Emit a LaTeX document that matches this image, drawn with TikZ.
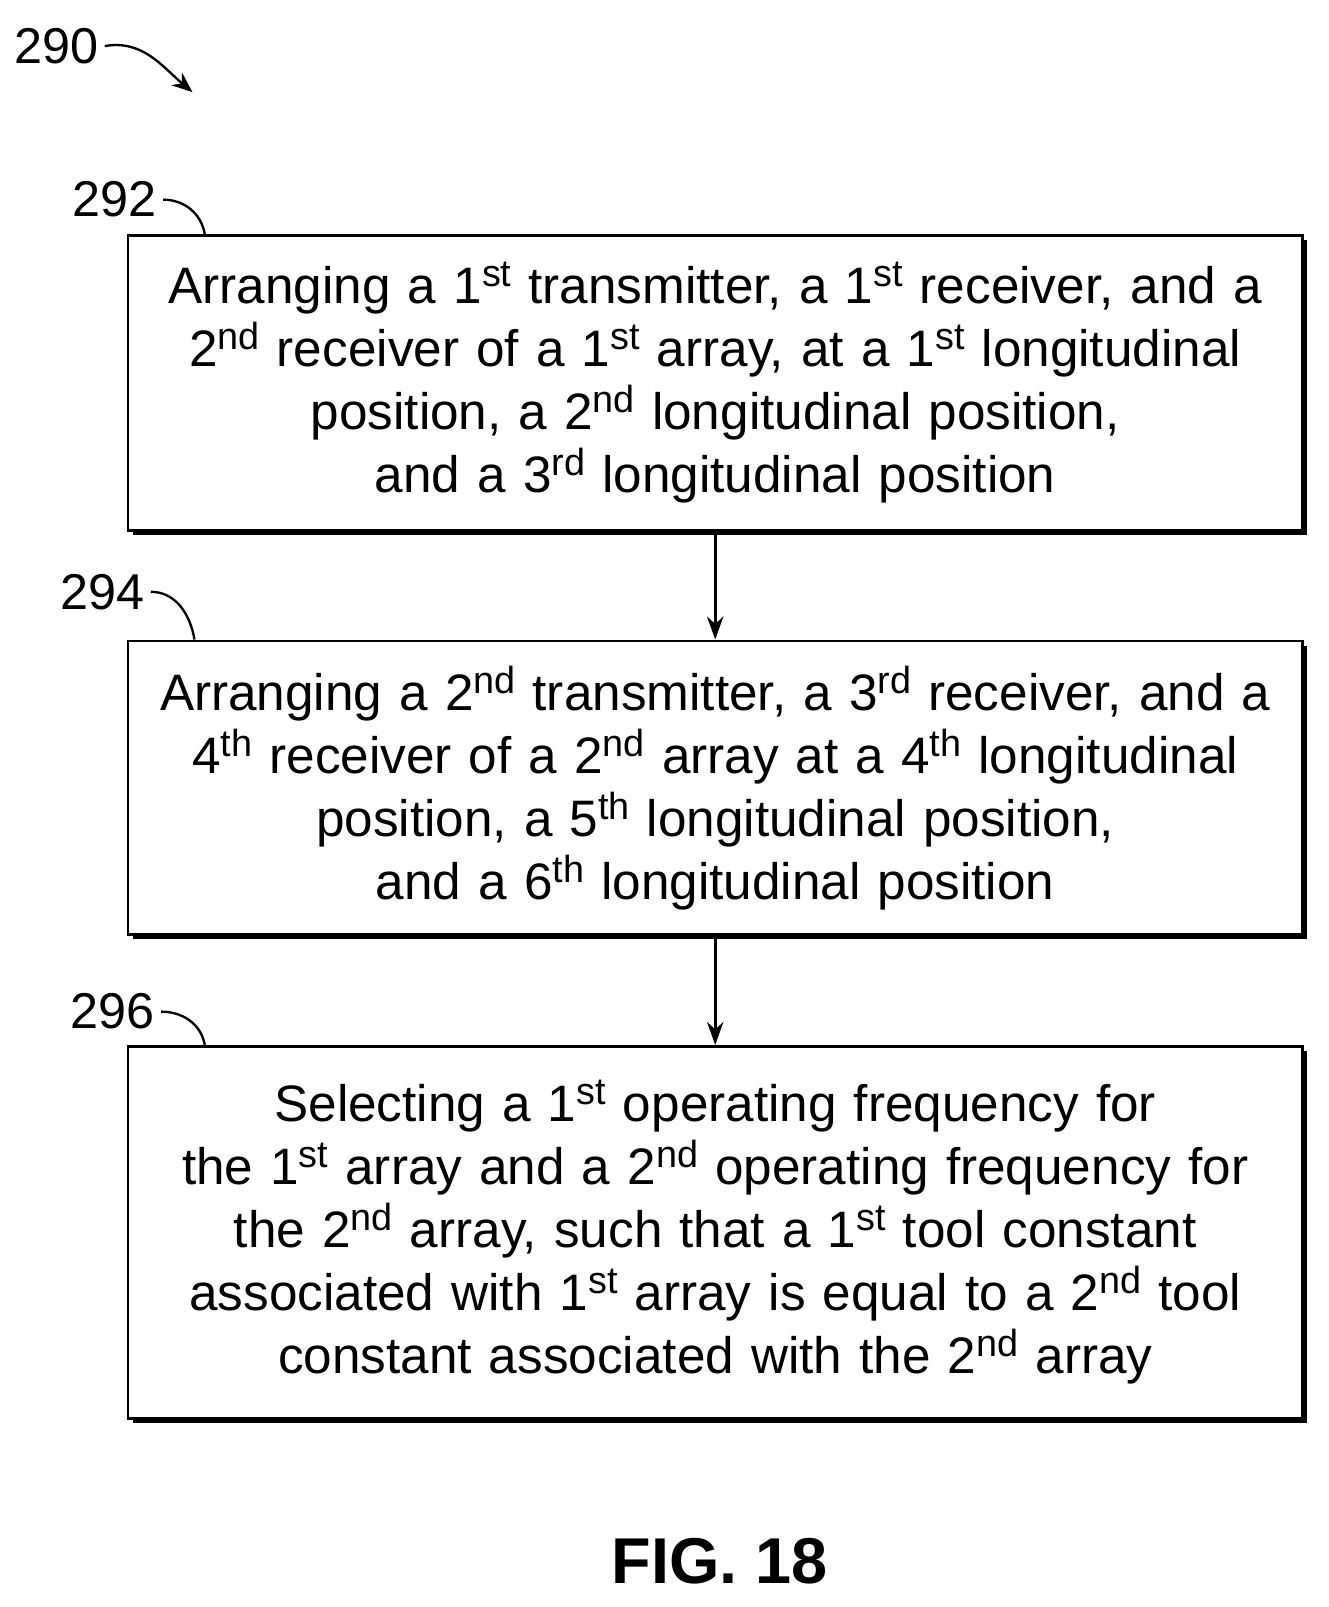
\documentclass[tikz,border=0pt]{standalone}
\usepackage{fontspec}
\setmainfont{Liberation Sans}
\usetikzlibrary{shadows,arrows.meta}
\newcommand{\sps}[1]{\raisebox{0.62ex}{\fontsize{21}{21}\selectfont #1}}
\tikzset{
  stepbox/.style={draw=black, line width=1.6pt, fill=white, minimum width=22.94cm,
    text width=22.9cm, align=center, inner sep=0pt,
    font=\fontsize{28.5}{35}\selectfont,
    drop shadow={shadow xshift=0.09cm, shadow yshift=-0.09cm, fill=black, opacity=1}},
  reflabel/.style={font=\fontsize{28}{30}\selectfont},
  flow/.style={-{Stealth[length=0.45cm,width=0.32cm]}, line width=1.6pt},
  leader/.style={line width=1.3pt}
}
\begin{document}
\begin{tikzpicture}
\useasboundingbox (0,0) rectangle (25.94,-31.39);
% reference numbers
\node[reflabel] (n290) at (1.1,-0.9) {290};
\node[reflabel] (n292) at (2.24,-3.9) {292};
\node[reflabel] (n294) at (2.0,-11.56) {294};
\node[reflabel] (n296) at (2.2,-19.76) {296};
% steps
\node[stepbox, minimum height=5.76cm] (s292) at (13.97,-7.48)
  {Arranging a 1\sps{st} transmitter, a 1\sps{st} receiver, and a\\
   2\sps{nd} receiver of a 1\sps{st} array, at a 1\sps{st} longitudinal\\
   position, a 2\sps{nd} longitudinal position,\\
   and a 3\sps{rd} longitudinal position};
\node[stepbox, minimum height=5.74cm] (s294) at (13.97,-15.39)
  {Arranging a 2\sps{nd} transmitter, a 3\sps{rd} receiver, and a\\
   4\sps{th} receiver of a 2\sps{nd} array at a 4\sps{th} longitudinal\\
   position, a 5\sps{th} longitudinal position,\\
   and a 6\sps{th} longitudinal position};
\node[stepbox, minimum height=7.26cm] (s296) at (13.97,-24.07)
  {Selecting a 1\sps{st} operating frequency for\\
   the 1\sps{st} array and a 2\sps{nd} operating frequency for\\
   the 2\sps{nd} array, such that a 1\sps{st} tool constant\\
   associated with 1\sps{st} array is equal to a 2\sps{nd} tool\\
   constant associated with the 2\sps{nd} array};
\node[font=\bfseries\fontsize{36}{40}\selectfont] (fig) at (14.06,-30.5) {FIG. 18};
% connectors
\draw[flow] (s292) -- (s294);
\draw[flow] (s294) -- (s296);
\draw[leader] (n292.east) to[out=0,in=100] (s292.north west -| 4.0,0);
\draw[leader] (n294.east) to[out=0,in=100] (s294.north west -| 3.8,0);
\draw[leader] (n296.east) to[out=0,in=100] (s296.north west -| 4.0,0);
\coordinate (a290) at (3.76,-1.8);
\draw[leader, -{Stealth[length=0.4cm,width=0.32cm]}] (n290.east) to[out=10,in=140] (a290);
\end{tikzpicture}
\end{document}
